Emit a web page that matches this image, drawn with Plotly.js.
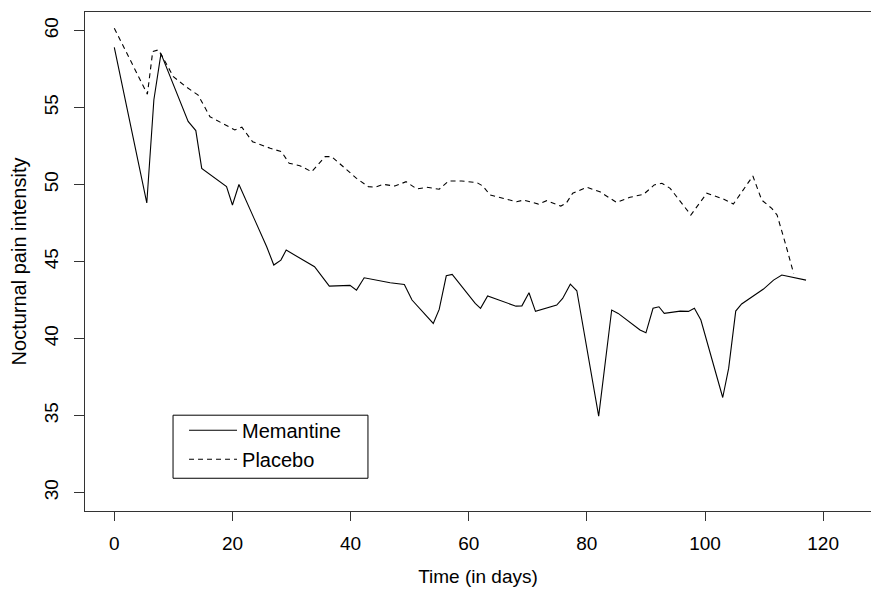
<!DOCTYPE html>
<html>
<head>
<meta charset="utf-8">
<script src="https://cdn.plot.ly/plotly-3.0.1.min.js"></script>
<style>html,body{margin:0;padding:0;background:#fff;}#chart{width:871px;height:593px;}</style>
</head>
<body>
<div id="chart"></div>
<script>
var memantineDays = [0, 5.5, 6.7, 7.9, 12.5, 13.8, 14.8, 19.0, 20.0, 21.1, 25.8, 27.0, 28.2, 29.1, 33.9, 36.4, 39.9, 41.0, 42.3, 46.7, 49.1, 50.4, 54.0, 55.0, 56.2, 57.2, 61.1, 62.0, 63.2, 68.0, 69.0, 70.2, 71.3, 74.9, 75.9, 77.2, 78.3, 82.0, 84.2, 85.3, 89.0, 90.0, 91.2, 92.2, 93.1, 95.8, 97.2, 98.2, 99.3, 103.0, 104.0, 105.2, 106.2, 109.9, 111.6, 113.0, 117.1];
var memantineValues = [58.9, 48.8, 55.5, 58.5, 54.1, 53.5, 51.05, 49.86, 48.67, 50.0, 45.96, 44.77, 45.09, 45.74, 44.66, 43.4, 43.45, 43.14, 43.94, 43.62, 43.51, 42.5, 40.98, 41.89, 44.07, 44.16, 42.28, 41.96, 42.76, 42.1, 42.12, 42.97, 41.76, 42.17, 42.6, 43.53, 43.1, 34.96, 41.85, 41.63, 40.55, 40.37, 41.96, 42.06, 41.63, 41.78, 41.76, 41.96, 41.2, 36.17, 38.06, 41.78, 42.24, 43.21, 43.79, 44.12, 43.79];
var placeboDays = [0, 5.6, 6.5, 7.45, 8.0, 10.0, 12.3, 14.2, 16.2, 20.4, 21.6, 23.4, 26.4, 28.3, 29.6, 31.4, 33.4, 35.7, 36.8, 41.0, 43.0, 44.1, 45.5, 47.5, 49.4, 51.2, 52.9, 55.0, 56.6, 58.8, 61.4, 62.4, 63.6, 65.3, 68.1, 69.3, 71.8, 73.2, 75.6, 76.5, 77.6, 80.0, 82.2, 85.0, 87.3, 89.6, 91.4, 92.7, 94.1, 97.6, 100.3, 103.1, 104.8, 108.1, 109.6, 111.3, 112.2, 113.6, 115.0];
var placeboValues = [60.15, 55.86, 58.63, 58.74, 58.4, 57.0, 56.3, 55.8, 54.4, 53.54, 53.72, 52.78, 52.35, 52.13, 51.38, 51.22, 50.83, 51.81, 51.81, 50.4, 49.86, 49.82, 50.01, 49.9, 50.18, 49.71, 49.82, 49.69, 50.23, 50.23, 50.12, 49.9, 49.32, 49.14, 48.88, 48.99, 48.73, 48.95, 48.6, 48.78, 49.43, 49.82, 49.53, 48.84, 49.17, 49.36, 49.97, 50.08, 49.75, 48.02, 49.43, 49.06, 48.73, 50.55, 48.99, 48.45, 48.02, 46.18, 44.23];
var seriesNames = ["Memantine", "Placebo"];
var xTicks = [0, 20, 40, 60, 80, 100, 120];
var yTicks = [30, 35, 40, 45, 50, 55, 60];
var xTitle = "Time (in days)";
var yTitle = "Nocturnal pain intensity";

var font = "Liberation Sans, Arial, Helvetica, sans-serif";
var fs = 19;
var traces = [
  {x: memantineDays, y: memantineValues, name: seriesNames[0], mode: "lines", type: "scatter",
   line: {color: "#000", width: 1.1}},
  {x: placeboDays, y: placeboValues, name: seriesNames[1], mode: "lines", type: "scatter",
   line: {color: "#000", width: 1.1, dash: "5px,4px"}}
];
var layout = {
  width: 871, height: 593,
  margin: {l: 85, r: 0, t: 12, b: 82, pad: 0},
  paper_bgcolor: "#fff", plot_bgcolor: "#fff",
  font: {family: font, size: fs, color: "#000"},
  showlegend: true,
  legend: {x: 0.126, y: 0.201, xanchor: "left", yanchor: "top", bgcolor: "rgba(0,0,0,0)",
           borderwidth: 0, itemwidth: 48, font: {family: font, size: 20, color: "#000"}, tracegroupgap: 0},
  xaxis: {range: [-4.96, 128.1], tickvals: xTicks, ticktext: xTicks.map(String),
          showgrid: false, zeroline: false, showline: true, linecolor: "#333", linewidth: 1,
          mirror: true, ticks: "outside", ticklen: 9, tickcolor: "#333", tickwidth: 1,
          ticklabelstandoff: 6,
          tickfont: {family: font, size: fs, color: "#000"},
          title: {text: xTitle, font: {family: font, size: fs, color: "#000"}, standoff: 16}},
  yaxis: {range: [28.8, 61.2], tickvals: yTicks, ticktext: yTicks.map(String),
          showgrid: false, zeroline: false, showline: true, linecolor: "#333", linewidth: 1,
          mirror: false, ticks: "outside", ticklen: 10, tickcolor: "#333", tickwidth: 1,
          tickangle: -90, ticklabelstandoff: 8,
          tickfont: {family: font, size: fs, color: "#000"},
          title: {text: yTitle, font: {family: font, size: 20, color: "#000"}, standoff: 9}},
  shapes: [
    {type: "rect", xref: "paper", yref: "paper", x0: 0.112, x1: 0.360, y0: 0.0656, y1: 0.192,
     line: {color: "#000", width: 1}, fillcolor: "rgba(0,0,0,0)"}
  ]
};
Plotly.newPlot("chart", traces, layout, {staticPlot: true, displayModeBar: false});
</script>
</body>
</html>
